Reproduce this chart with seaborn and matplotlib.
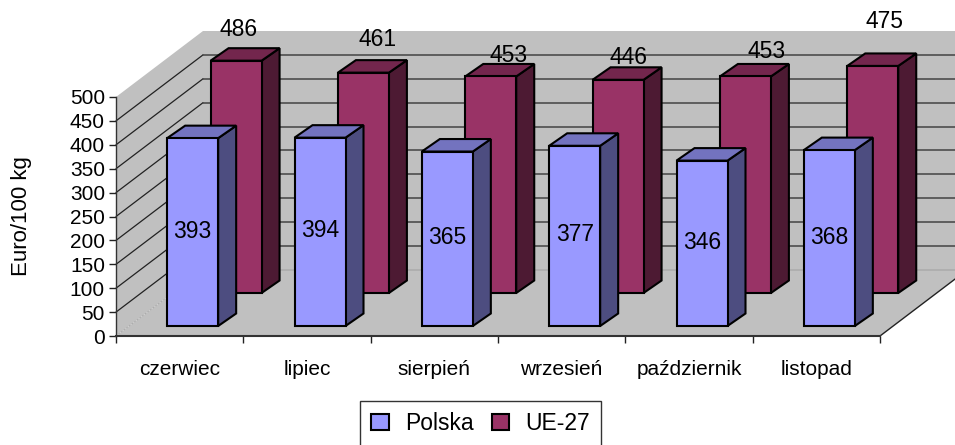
import matplotlib
matplotlib.use('Agg')
import matplotlib.pyplot as plt
import pandas as pd
import seaborn as sns
from matplotlib.patches import Patch, Polygon
from matplotlib.transforms import Affine2D

months = ['czerwiec', 'lipiec', 'sierpień', 'wrzesień', 'październik', 'listopad']
polska = [393, 394, 365, 377, 346, 368]
ue27 = [486, 461, 453, 446, 453, 475]
y_ticks = [0, 50, 100, 150, 200, 250, 300, 350, 400, 450, 500]

# offsets of the UE-27 value labels from the top of each bar, in pixels
ue_label_dx = [2, 14, 18, 10, 21, 12]
ue_label_dy = [31, 33, 21, 22, 25, 44]

df = pd.DataFrame({'month': months, 'Polska': polska, 'UE-27': ue27})

sns.set_style('white')
plt.rcParams['font.family'] = ['Liberation Sans', 'DejaVu Sans']
plt.rcParams['text.color'] = 'black'
plt.rcParams['axes.labelcolor'] = 'black'
plt.rcParams['xtick.labelcolor'] = 'black'
plt.rcParams['ytick.labelcolor'] = 'black'

fig = plt.figure(figsize=(9.55, 4.45), dpi=100)
ax = fig.add_axes([116 / 955, 109 / 445, 764 / 955, 239 / 445])

PX_X = 764 / 6   # pixels per category
PX_Y = 239 / 500   # pixels per value unit
BAR_W = 51 / PX_X


def shifted(sx, sy):
    return ax.transData + Affine2D().translate(sx, sy)


def draw_bars(col, color, top_col, side_col, sx, sy, z):
    n_before = len(ax.patches)
    sns.barplot(data=df, x='month', y=col, color=color, saturation=1, width=BAR_W,
                edgecolor='black', linewidth=1.5, zorder=z, ax=ax)
    tr = shifted(sx, sy)
    for p in ax.patches[n_before:]:
        p.set_transform(tr)
        p.set_clip_on(False)
    ddx = 18 / PX_X
    ddy = 12.5 / PX_Y
    for i, v in enumerate(df[col]):
        r = i + BAR_W / 2
        l = i - BAR_W / 2
        side = [(r, 0), (r + ddx, ddy), (r + ddx, v + ddy), (r, v)]
        top = [(l, v), (l + ddx, v + ddy), (r + ddx, v + ddy), (r, v)]
        for pts, c in ((side, side_col), (top, top_col)):
            ax.add_patch(Polygon(pts, closed=True, facecolor=c, edgecolor='black',
                                 linewidth=1.5, transform=tr, clip_on=False, zorder=z - 0.1))


# walls and floor of the box
dep_x = 87 / PX_X
dep_y = 66 / PX_Y
wall = '#c0c0c0'
ax.add_patch(Polygon([(-0.5, 0), (-0.5 + dep_x, dep_y), (5.5 + dep_x, dep_y), (5.5, 0)],
                     facecolor=wall, edgecolor='none', clip_on=False, zorder=0.5))
ax.add_patch(Polygon([(-0.5, 0), (-0.5, 500), (-0.5 + dep_x, 500 + dep_y), (-0.5 + dep_x, dep_y)],
                     facecolor=wall, edgecolor='none', clip_on=False, zorder=0.5))
ax.add_patch(Polygon([(-0.5 + dep_x, dep_y), (-0.5 + dep_x, 500 + dep_y),
                      (5.5 + dep_x, 500 + dep_y), (5.5 + dep_x, dep_y)],
                     facecolor=wall, edgecolor='none', clip_on=False, zorder=0.5))
ax.plot([5.5, 5.5 + dep_x], [0, dep_y], color='#222222', lw=1, clip_on=False, zorder=1)
for t in y_ticks:
    if t == 500:
        continue
    c = '#aaaaaa' if t == 0 else '#222222'
    ls = ':' if t == 0 else '-'
    c2 = '#aaaaaa' if t == 0 else '#444444'
    ax.plot([-0.5, -0.5 + dep_x], [t, t + dep_y], color=c, lw=0.9, ls=ls, clip_on=False, zorder=1)
    ax.plot([-0.5 + dep_x, 5.5 + dep_x], [t + dep_y, t + dep_y], color=c2, lw=1.1,
            clip_on=False, zorder=1)

draw_bars('UE-27', '#993366', '#73264d', '#4d1a33', 56.4, 43, 3)
draw_bars('Polska', '#9999ff', '#7373bf', '#4d4d80', 13, 10, 4)

# value labels
for i, v in enumerate(polska):
    ax.text(i, v / 2, str(v), transform=shifted(13, 10 + 1), ha='center', va='center',
            fontsize=16.5, color='black', zorder=6)
for i, v in enumerate(ue27):
    ax.text(i, v, str(v), transform=shifted(56.4 + ue_label_dx[i], 43 + ue_label_dy[i]),
            ha='center', va='center', fontsize=16.5, color='black', zorder=6, clip_on=False)

ax.set_xlim(-0.5, 5.5)
ax.set_ylim(0, 500)
ax.set_yticks(y_ticks)
ax.set_xticks([i - 0.5 for i in range(7)])
ax.set_xticklabels([])
ax.set_xticks(range(6), labels=months, minor=True)
ax.tick_params(axis='x', which='major', length=5, width=1, color='#222222', bottom=True)
ax.tick_params(axis='x', which='minor', length=0, pad=17, labelsize=15, labelcolor='black', bottom=False)
ax.tick_params(axis='y', length=5, width=1, color='#222222', left=True, labelsize=15, labelcolor='black', pad=3)
ax.set_xlabel('')
ax.set_ylabel('Euro/100 kg', fontsize=16, labelpad=27, color='black')
ax.patch.set_visible(False)
sns.despine(ax=ax, top=True, right=True)
ax.spines['left'].set_color('#333333')
ax.spines['left'].set_linewidth(1)
ax.spines['bottom'].set_color('#333333')
ax.spines['bottom'].set_linewidth(1.5)
ax.spines['left'].set_zorder(2)
ax.spines['bottom'].set_zorder(2)

handles = [Patch(facecolor='#9999ff', edgecolor='black', linewidth=1.5, label='Polska'),
           Patch(facecolor='#993366', edgecolor='black', linewidth=1.5, label='UE-27')]
leg = fig.legend(handles=handles, ncol=2, loc='center', bbox_to_anchor=(480.5 / 955, 21.5 / 445),
                 fontsize=16.5, frameon=True, fancybox=False, edgecolor='#333333',
                 handlelength=0.75, handleheight=0.75, handletextpad=0.7, columnspacing=0.8,
                 borderpad=0.5, borderaxespad=0, framealpha=1, labelcolor='black')
leg.get_frame().set_linewidth(1)

fig.savefig('out.png', dpi=100)
